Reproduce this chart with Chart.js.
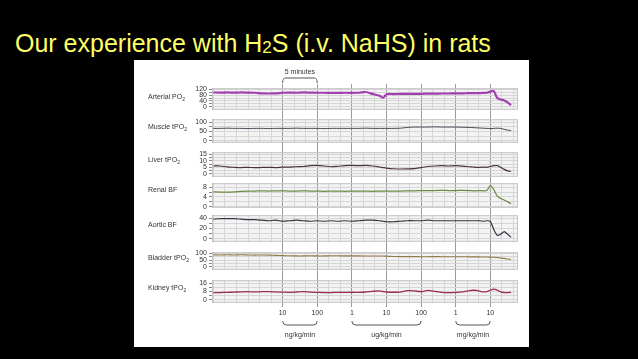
<!DOCTYPE html>
<html>
<head>
<meta charset="utf-8">
<script src="https://cdn.jsdelivr.net/npm/chart.js@4/dist/chart.umd.min.js"></script>
<style>
html,body{margin:0;padding:0;background:#000;width:638px;height:359px;overflow:hidden;}
#title{position:absolute;left:15px;top:31px;font-size:25px;line-height:25px;font-family:"Liberation Sans",Arial,sans-serif;color:#ffff66;white-space:nowrap;}
#title sub{font-size:17px;vertical-align:baseline;position:relative;top:1px;}
#panel{position:absolute;left:134px;top:60px;width:395px;height:287px;background:#fff;}
.lbl{position:absolute;left:14px;z-index:2;font-size:7px;line-height:8px;font-family:"Liberation Sans",Arial,sans-serif;color:#333;white-space:nowrap;}
.lbl sub{font-size:5px;vertical-align:baseline;position:relative;top:1.5px;}
</style>
</head>
<body>
<div id="title">Our experience with H<sub>2</sub>S (i.v. NaHS) in rats</div>
<div id="panel"></div>

<script>
// time axis (minutes) shared by all traces
const times = [0,1,2,3,4,5,6,7,8,9,10,11,12,13,14,15,16,17,18,19,20,21,22,23,24,24.5,
  25,26,27,28,29,30,31,32,33,34,35,36,37,37.5,38,38.5,39,39.5,40,40.5,41,41.5,42,42.5,43];

const arterialPO2 = [98,97,98,97,98,97,96,92,91,92,96,97,96,98,97,96,96,95,95,96,95,96,101,88,75,62,
  86,87,88,88,89,89,90,90,91,91,92,92,93,93,94,94,95,96,104,108,60,50,44,30,12];
const muscleTPO2 = [67,67,68,67,67,66,67,67,66,67,67,67,68,67,67,67,66,67,67,67,67,67,68,67,67,67,
  67,67,68,72,74,74,74,75,74,74,74,73,72,71,70,69,68,67,66,67,68,67,62,58,55];
const liverTPO2 = [6.0,6.0,5.3,5.0,4.8,5.0,4.7,4.9,5.0,4.8,5.1,5.2,5.4,5.6,6.2,6.5,6.0,5.4,5.8,6.3,6.4,6.2,6.4,6.0,5.2,4.8,
  4.4,3.9,3.7,3.8,4.0,4.8,5.6,6.0,6.2,6.0,6.2,5.9,5.4,5.2,5.0,5.0,5.2,5.0,5.6,6.2,6.3,5.0,3.4,2.3,1.9];
const renalBF = [6.1,6.0,6.0,6.1,6.3,6.4,6.4,6.5,6.4,6.5,6.5,6.4,6.4,6.5,6.4,6.4,6.3,6.4,6.4,6.3,6.4,6.4,6.4,6.3,6.4,6.4,
  6.4,6.4,6.4,6.5,6.5,6.6,6.6,6.6,6.7,6.6,6.6,6.7,6.6,6.5,6.5,6.6,6.5,6.6,8.6,7.0,4.3,3.4,2.8,2.0,1.3];
const aorticBF = [38,39,39,39,38,37,37,36,35,36,34,35,36,35,34,35,34,35,34,35,34,35,36,36,35,34,
  33,33,34,35,35,35,36,35,35,35,35,35,35,35,35,35,34,35,34,18,7,9,14,9,3];
const bladderTPO2 = [88,87,88,87,88,87,86,87,86,84,82,81,80,80,81,80,80,81,81,80,80,80,79,79,79,79,
  78,76,75,75,75,74,74,75,74,74,74,74,73,73,73,73,72,72,71,70,68,65,62,58,54];
const kidneyTPO2 = [6.9,7.0,7.2,7.4,7.6,7.8,7.6,7.8,7.9,7.6,7.4,7.2,7.5,7.8,7.4,7.2,7.0,7.0,7.2,7.1,7.3,7.2,7.5,8.2,8.6,8.0,
  7.5,7.3,7.4,8.8,8.6,7.8,9.0,8.2,7.2,7.0,7.2,7.6,8.8,9.2,9.0,8.2,7.6,7.8,9.2,10.2,9.4,7.6,7.0,7.0,7.1];

// dose steps along the time axis
const doseTimes  = [10,15,20,25,30,35,40];
const doseLabels = ['10','100','1','10','100','1','10'];
const unitLabels = ['ng/kg/min','ug/kg/min','mg/kg/min'];
const unitFrom   = [10,20,35];
const unitTo     = [15,30,40];

// y axis ticks per trace
const rowLabels = ['Arterial PO<sub>2</sub>','Muscle tPO<sub>2</sub>','Liver tPO<sub>2</sub>','Renal BF','Aortic BF','Bladder tPO<sub>2</sub>','Kidney tPO<sub>2</sub>'];
const rowSeries = [arterialPO2, muscleTPO2, liverTPO2, renalBF, aorticBF, bladderTPO2, kidneyTPO2];
const rowGrid = [[0,20,40,60,80,100,120],[0,25,50,75,100],[0,2.5,5,7.5,10,12.5,15],[0,2,4,6,8],[0,10,20,30,40],[0,25,50,75,100],[0,4,8,12,16]];
const rowTicks = [[0,40,80,120],[0,50,100],[0,5,10,15],[0,4,8],[0,20,40],[0,50,100],[0,8,16]];
const rowMin = [-20,-10,-2.25,-0.4,-5.7,-21,-2.8];
const rowMax = [127,116,16.5,9.6,45.7,107,18.8];

// layout / style
const X_MIN = -0.2, X_MAX = 44;
const rowTop    = [22,53,86,117,149,186,214];
const rowHeight = [34,36,37,37,39,30,35];
const labelY    = [37,67,100,130,165,198,228];
const rowColors = ['#a23fb0','#3f4650','#4b3535','#6d8a45','#3b3342','#8f7a48','#9a2c58'];
const rowWidths = [2.2,1,1.2,1.2,1.2,1.1,1.3];

Chart.defaults.font.family = '"Liberation Sans", Arial, sans-serif';
Chart.defaults.font.size = 7;
Chart.defaults.color = '#333';

const panel = document.getElementById('panel');

function makeCanvas(top, height){
  const c = document.createElement('canvas');
  c.width = 395; c.height = height;
  c.style.cssText = `position:absolute;left:0;top:${top}px;width:395px;height:${height}px`;
  panel.appendChild(c);
  return c;
}

function isDose(v){
  return doseTimes.some(d => Math.abs(d - v) < 1e-6);
}

// minor time grid every 5/3 min
const gridTimes = [];
for(let k=0; k*5/3 <= X_MAX; k++) gridTimes.push(k*5/3);

/* background: dose lines, dose labels, brackets */
const bracketPlugin = {
  id:'brackets',
  afterDraw(chart){
    const {ctx, chartArea, scales:{x}} = chart;
    ctx.save();
    ctx.strokeStyle = '#555'; ctx.lineWidth = 1; ctx.fillStyle = '#333';
    ctx.font = '7px "Liberation Sans", Arial, sans-serif';
    ctx.textAlign = 'center'; ctx.textBaseline = 'middle';
    // 5 minutes
    const a = x.getPixelForValue(doseTimes[0]), b = x.getPixelForValue(doseTimes[1]);
    const yt = chartArea.top - 6;
    ctx.beginPath();
    ctx.moveTo(a, chartArea.top - 1);
    ctx.quadraticCurveTo(a, yt, a + 3, yt);
    ctx.lineTo(b - 3, yt);
    ctx.quadraticCurveTo(b, yt, b, chartArea.top - 1);
    ctx.stroke();
    ctx.fillText('5 minutes', (a + b) / 2, yt - 6);
    // unit brackets
    const yb = chartArea.bottom + 18;
    unitLabels.forEach((u, i) => {
      const p = x.getPixelForValue(unitFrom[i]), q = x.getPixelForValue(unitTo[i]);
      ctx.beginPath();
      ctx.moveTo(p, yb - 4);
      ctx.quadraticCurveTo(p, yb, p + 4, yb);
      ctx.lineTo(q - 4, yb);
      ctx.quadraticCurveTo(q, yb, q, yb - 4);
      ctx.stroke();
      ctx.fillText(u, (p + q) / 2, yb + 10);
    });
    ctx.restore();
  }
};

new Chart(makeCanvas(0, 287), {
  type:'line',
  data:{datasets:[]},
  options:{
    responsive:false, animation:false, events:[],
    layout:{padding:{left:78, right:11, top:24, bottom:0}},
    plugins:{legend:{display:false}, tooltip:{enabled:false}},
    scales:{
      x:{
        type:'linear', min:X_MIN, max:X_MAX, position:'bottom',
        border:{display:false},
        grid:{drawTicks:false, color:'#9a9a9a'},
        ticks:{padding:2, color:'#333', autoSkip:false, maxRotation:0, callback:(v, i) => doseLabels[i]},
        afterBuildTicks: s => { s.ticks = doseTimes.map(v => ({value:v})); },
        afterFit: s => { s.height = 40; }
      },
      y:{display:false, min:0, max:1}
    }
  },
  plugins:[bracketPlugin]
});

/* trace panels */
const panelFrame = {
  id:'panelFrame',
  beforeDraw(chart){
    const {ctx, chartArea:a} = chart;
    ctx.save();
    ctx.fillStyle = '#f3f3f3';
    ctx.fillRect(a.left, a.top, a.width, a.height);
    ctx.restore();
  },
  beforeDatasetsDraw(chart){
    const {ctx, chartArea:a} = chart;
    ctx.save();
    ctx.strokeStyle = '#c4c4c4'; ctx.lineWidth = 1;
    ctx.strokeRect(a.left + 0.5, a.top + 0.5, a.width - 1, a.height - 1);
    ctx.restore();
  }
};

rowSeries.forEach((vals, r) => {
  new Chart(makeCanvas(rowTop[r], rowHeight[r]), {
    type:'line',
    data:{datasets:[{
      data: times.map((t, i) => ({x:t, y:vals[i]})),
      borderColor: rowColors[r], borderWidth: rowWidths[r],
      pointRadius:0, tension:0.25, fill:false
    }]},
    options:{
      responsive:false, animation:false, events:[],
      layout:{padding:{left:0, right:11, top:6, bottom:6}},
      plugins:{legend:{display:false}, tooltip:{enabled:false}},
      scales:{
        x:{
          type:'linear', min:X_MIN, max:X_MAX,
          border:{display:false},
          grid:{drawTicks:false, color: c => (c.tick && isDose(c.tick.value)) ? '#9a9a9a' : '#d6d6d6'},
          ticks:{display:false},
          afterBuildTicks: s => { s.ticks = gridTimes.map(v => ({value:v})); }
        },
        y:{
          min:rowMin[r], max:rowMax[r], position:'left',
          border:{display:true, color:'#777'},
          grid:{color:'#d6d6d6', tickLength:3, tickColor:'#888'},
          ticks:{padding:2, color:'#333', autoSkip:false, callback: v => rowTicks[r].includes(v) ? String(v) : ''},
          afterBuildTicks: s => { s.ticks = rowGrid[r].map(v => ({value:v})); },
          afterFit: s => { s.width = 78; }
        }
      }
    },
    plugins:[panelFrame]
  });

  const d = document.createElement('div');
  d.className = 'lbl';
  d.style.top = (labelY[r] - 4) + 'px';
  d.innerHTML = rowLabels[r];
  panel.appendChild(d);
});
</script>
</body>
</html>
